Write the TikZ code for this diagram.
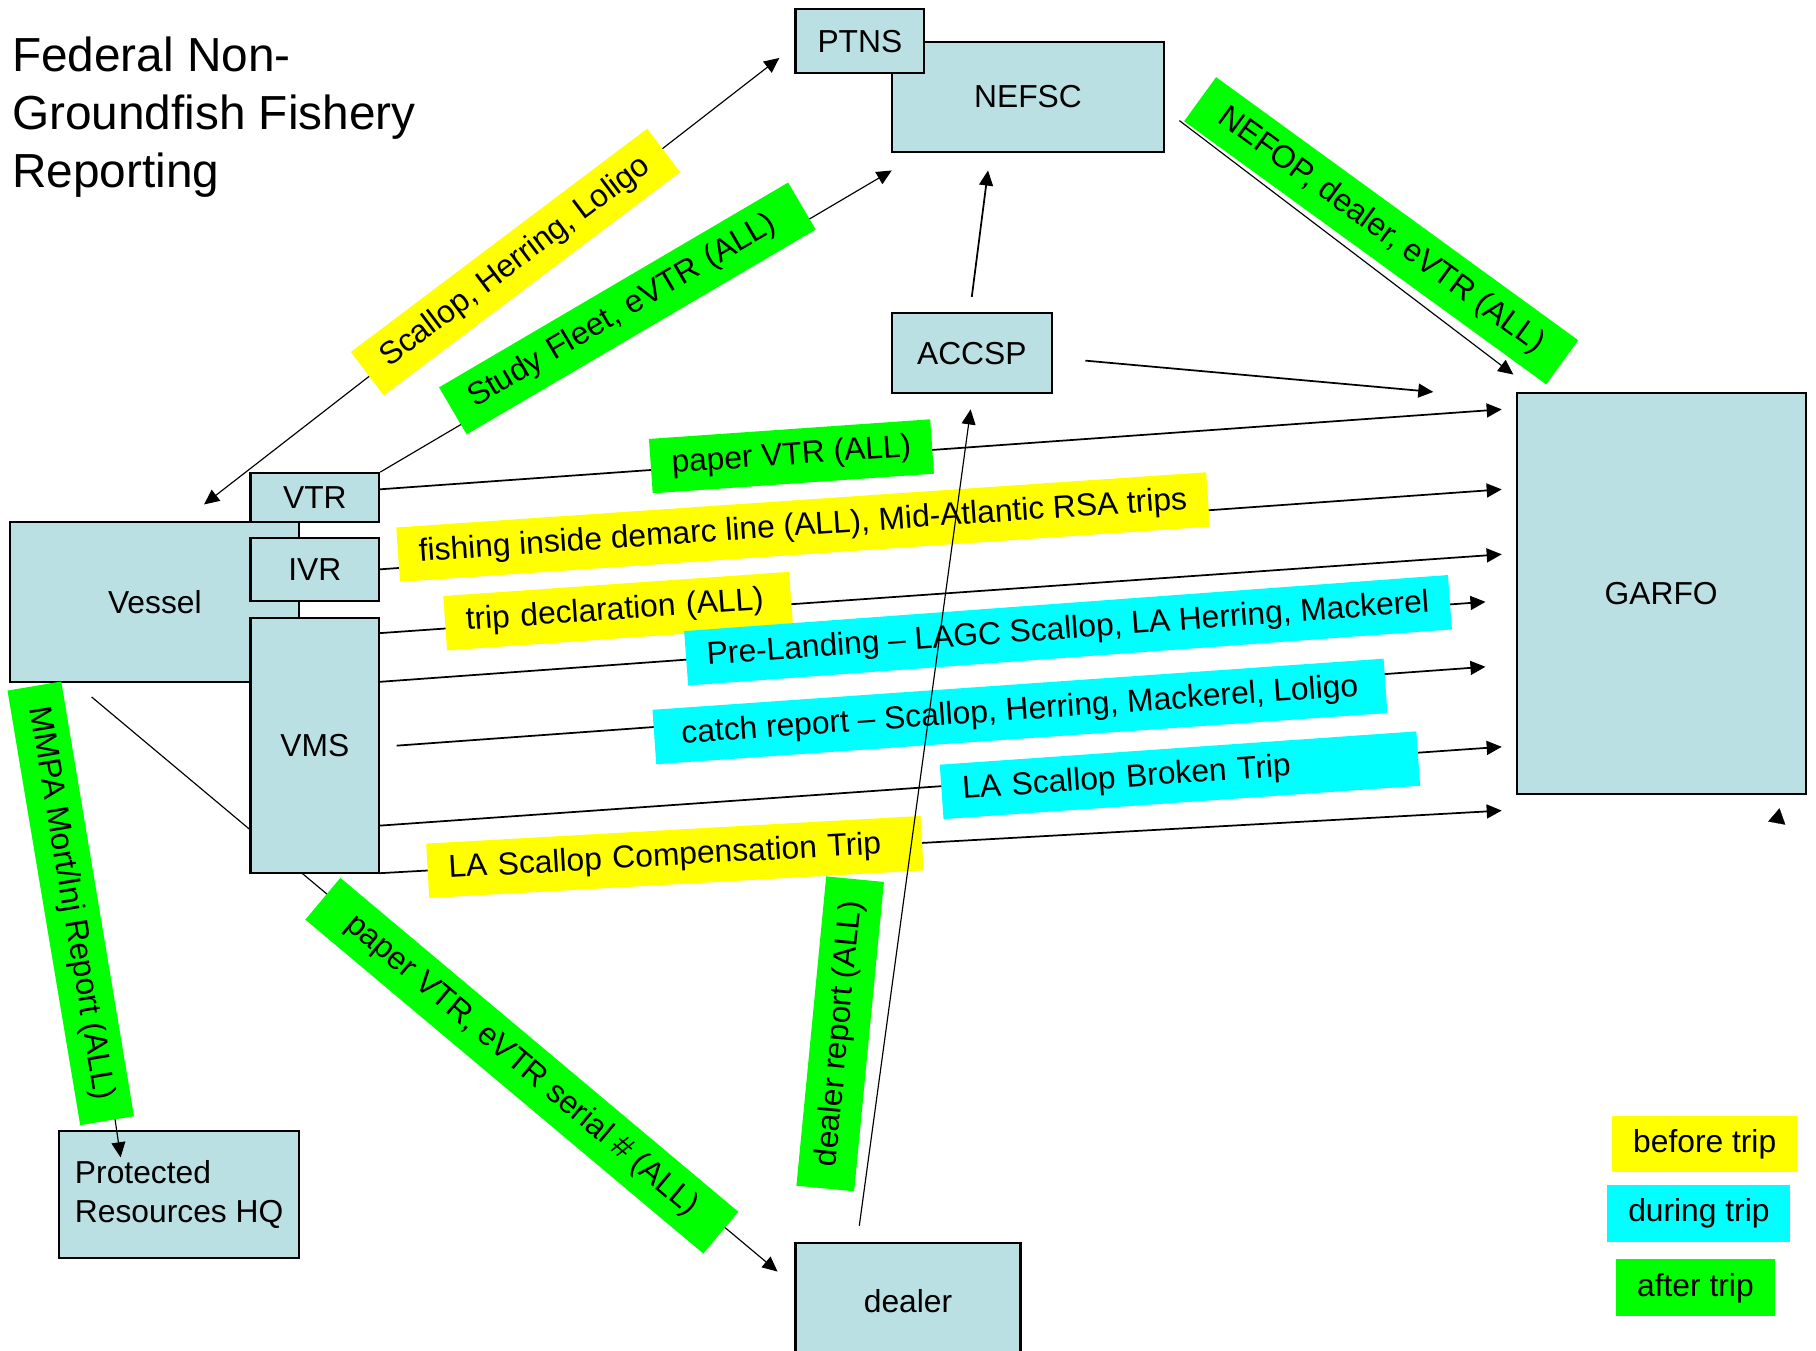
\documentclass[tikz,border=0pt]{standalone}
\usepackage{fontspec}
\setmainfont{Liberation Sans}
\usetikzlibrary{arrows.meta}
\definecolor{boxfill}{HTML}{BBE0E3}
\definecolor{ylw}{HTML}{FFFF00}
\definecolor{cyn}{HTML}{00FFFF}
\definecolor{grn}{HTML}{00FF00}
\tikzset{
  box/.style={draw=black, line width=0.9pt, fill=boxfill, inner sep=0pt, font=\fontsize{13.7}{16.5}\selectfont},
  tag/.style={inner xsep=9pt, inner ysep=0pt, minimum height=23.5pt, font=\fontsize{13.7}{16.5}\selectfont},
  tagY/.style={tag, fill=ylw},
  tagC/.style={tag, fill=cyn},
  tagG/.style={tag, fill=grn},
  wire/.style={line width=0.75pt, ->},
  fine/.style={line width=0.5pt, ->},
  ttl/.style={anchor=base west, inner sep=0pt, font=\fontsize{20.6}{25}\selectfont},
}
\begin{document}
\begin{tikzpicture}[x=0.5pt, y=-0.5pt, >={Triangle[length=6.5pt,width=6pt]}]
\useasboundingbox (0,0) rectangle (1566,1165);

% title
\node[ttl] (t1) at (10,62) {Federal Non-};
\node[ttl] (t2) at (10,112) {Groundfish Fishery};
\node[ttl] (t3) at (10,162) {Reporting};

% vessel and the line that passes behind VMS
\node[box, minimum width=124.5pt, minimum height=69pt] (vessel) at (133.5,519) {Vessel};
\coordinate (serA) at (79,601);
\coordinate (serB) at (670.5,1096.5);
\draw[fine] (serA) -- (serB);

% boxes
\node[box, minimum width=55.5pt, minimum height=21pt] (vtr) at (271.5,429) {VTR};
\node[box, minimum width=55.5pt, minimum height=27pt] (ivr) at (271.5,491) {IVR};
\node[box, minimum width=55.5pt, minimum height=110pt] (vms) at (271.5,643) {VMS};
\node[box, minimum width=117.5pt, minimum height=47.5pt] (nefsc) at (886.5,83.5) {NEFSC};
\node[box, minimum width=55.5pt, minimum height=27.5pt] (ptns) at (741.5,35.5) {PTNS};
\node[box, minimum width=69pt, minimum height=34.5pt] (accsp) at (838,304.5) {ACCSP};
\node[box, minimum width=124.5pt, minimum height=173pt] (garfo) at (1432.5,512) {GARFO};
\node[box, minimum width=103.5pt, minimum height=55pt, align=left] (prhq) at (154.5,1030) {Protected\\Resources HQ};
\node[box, minimum width=97pt, minimum height=50pt] (dealer) at (783,1122) {dealer};

% connector end points
\coordinate (scA) at (176,435);
\coordinate (scB) at (672,50);
\coordinate (sfB) at (769,147);
\coordinate (pvA) at (327,422);   \coordinate (pvB) at (1295,353);
\coordinate (fiA) at (327,491);   \coordinate (fiB) at (1295,422);
\coordinate (tdA) at (327,546);   \coordinate (tdB) at (1295,478);
\coordinate (plA) at (327,588);   \coordinate (plB) at (1281,519);
\coordinate (crA) at (342,643);   \coordinate (crB) at (1281,575);
\coordinate (btA) at (327,712);   \coordinate (btB) at (1295,644);
\coordinate (ctA) at (327,753);   \coordinate (ctB) at (1295,699);
\coordinate (agA) at (936,311);   \coordinate (agB) at (1236,338);
\coordinate (anA) at (838,256);   \coordinate (anB) at (852,147);
\coordinate (nfA) at (1017,104);  \coordinate (nfB) at (1305,323);
\coordinate (mmA) at (44,588);    \coordinate (mmB) at (104,998);
\coordinate (daA) at (741,1057);  \coordinate (daB) at (837,353);
\coordinate (stA) at (1532.2,709.5); \coordinate (stB) at (1534.5,697);

% connectors
\draw[fine,<->] (scA) -- (scB);
\draw[fine] (vtr.north east) -- (sfB);
\draw[wire] (pvA) -- (pvB);
\draw[wire] (fiA) -- (fiB);
\draw[wire] (tdA) -- (tdB);
\draw[wire] (plA) -- (plB);
\draw[wire] (crA) -- (crB);
\draw[wire] (btA) -- (btB);
\draw[wire] (ctA) -- (ctB);
\draw[wire] (agA) -- (agB);
\draw[wire] (anA) -- (anB);
\draw[fine] (nfA) -- (nfB);
\draw[fine] (mmA) -- (mmB);
\draw[line width=0.1pt, -{Triangle[length=6.5pt,width=7.5pt]}] (stA) -- (stB);

% labels
\node[tagY, rotate=37, minimum width=160pt] (lsc) at (444.5,226) {Scallop, Herring, Loligo};
\node[tagG, rotate=30.4, text width=156.5pt, align=left] (lsf) at (541,266) {Study Fleet, eVTR (ALL)};
\node[tagG, rotate=4, minimum width=119pt] (lpv) at (682.5,393.5) {paper VTR (ALL)};
\node[tagY, rotate=3.9, minimum width=350pt] (lfi) at (692.5,454.5) {fishing inside demarc line (ALL), Mid-Atlantic RSA trips};
\node[tagY, rotate=4, text width=131.5pt, align=left] (ltd) at (533,527) {trip declaration (ALL)};
\node[tagC, rotate=4.2, minimum width=329pt] (lpl) at (921,543.5) {Pre-Landing – LAGC Scallop, LA Herring, Mackerel};
\node[tagC, rotate=4, minimum width=316pt] (lcr) at (879.5,613.5) {catch report – Scallop, Herring, Mackerel, Loligo};
\node[tagC, rotate=4, text width=188pt, align=left] (lbt) at (1017.5,668.5) {LA Scallop Broken Trip};
\node[tagG, rotate=84.5, minimum width=134pt, minimum height=25pt] (ldr) at (724.5,891.5) {dealer report (ALL)};
\node[tagY, rotate=3.2, text width=195.5pt, align=left] (lct) at (582,739) {LA Scallop Compensation Trip};
\node[tagG, rotate=-36, minimum width=193pt] (lnf) at (1191,199) {NEFOP, dealer, eVTR (ALL)};
\node[tagG, rotate=-40, minimum width=224pt] (lsr) at (450,919) {paper VTR, eVTR serial \# (ALL)};
\node[tagG, rotate=-80.5, minimum width=190pt] (lmm) at (61,779) {MMPA Mort/Inj Report (ALL)};

% dealer -> ACCSP drawn over the labels
\draw[fine] (daA) -- (daB);

% legend
\node[tagY, minimum width=79pt, minimum height=24.5pt] (kb) at (1470,986.5) {before trip};
\node[tagC, minimum width=78pt, minimum height=24.5pt] (kd) at (1465,1046.5) {during trip};
\node[tagG, minimum width=67pt, minimum height=24.5pt] (ka) at (1462,1110.5) {after trip};
\end{tikzpicture}
\end{document}
